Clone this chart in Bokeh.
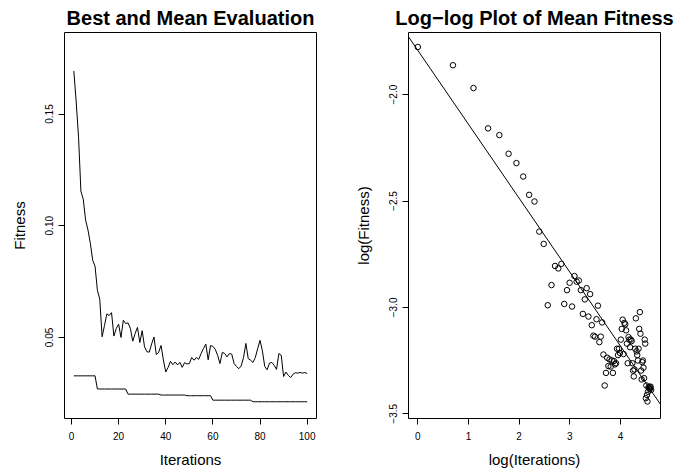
import numpy as np
from bokeh.plotting import figure
from bokeh.models import Range1d, FixedTicker, Slope, Title
from bokeh.layouts import row
from bokeh.embed import file_html
from bokeh.resources import INLINE

FONT = "Liberation Sans"

iterations = list(range(1, 101))

mean_fitness = [
    0.1693, 0.1554, 0.1396, 0.1155, 0.1119, 0.1025, 0.0981, 0.0921, 0.0845, 0.0819,
    0.0711, 0.0671, 0.0503, 0.0553, 0.0605, 0.0598, 0.0611, 0.0506, 0.0540, 0.0559,
    0.0500, 0.0577, 0.0562, 0.0565, 0.0540, 0.0483, 0.0517, 0.0545, 0.0477, 0.0530,
    0.0458, 0.0436, 0.0434, 0.0471, 0.0502, 0.0423, 0.0434, 0.0464, 0.0399, 0.0345,
    0.0366, 0.0393, 0.0378, 0.0390, 0.0377, 0.0388, 0.0366, 0.0387, 0.0381, 0.0383,
    0.0410, 0.0398, 0.0410, 0.0402, 0.0428, 0.0450, 0.0470, 0.0400, 0.0463, 0.0460,
    0.0447, 0.0420, 0.0383, 0.0433, 0.0428, 0.0413, 0.0428, 0.0425, 0.0383, 0.0370,
    0.0360, 0.0372, 0.0410, 0.0473, 0.0405, 0.0398, 0.0388, 0.0410, 0.0450, 0.0487,
    0.0440, 0.0370, 0.0355, 0.0385, 0.0388, 0.0375, 0.0357, 0.0428, 0.0420, 0.0325,
    0.0345, 0.0330, 0.0320, 0.0335, 0.0342, 0.0340, 0.0343, 0.0340, 0.0343, 0.0338,
]

best_fitness = [
    0.0328, 0.0328, 0.0328, 0.0328, 0.0328, 0.0328, 0.0328, 0.0328, 0.0328, 0.0328,
    0.0269, 0.0269, 0.0269, 0.0269, 0.0269, 0.0269, 0.0269, 0.0269, 0.0269, 0.0269,
    0.0269, 0.0269, 0.0269, 0.0246, 0.0246, 0.0246, 0.0246, 0.0246, 0.0246, 0.0246,
    0.0246, 0.0246, 0.0246, 0.0246, 0.0246, 0.0246, 0.0246, 0.0242, 0.0242, 0.0242,
    0.0242, 0.0242, 0.0242, 0.0242, 0.0242, 0.0242, 0.0242, 0.0242, 0.0239, 0.0239,
    0.0239, 0.0239, 0.0239, 0.0239, 0.0239, 0.0239, 0.0239, 0.0239, 0.0239, 0.0219,
    0.0219, 0.0219, 0.0219, 0.0219, 0.0219, 0.0219, 0.0219, 0.0219, 0.0219, 0.0219,
    0.0219, 0.0219, 0.0219, 0.0219, 0.0219, 0.0219, 0.0212, 0.0212, 0.0212, 0.0212,
    0.0212, 0.0212, 0.0212, 0.0212, 0.0212, 0.0212, 0.0212, 0.0212, 0.0212, 0.0212,
    0.0212, 0.0212, 0.0212, 0.0212, 0.0212, 0.0212, 0.0212, 0.0212, 0.0212, 0.0212,
]

left_x_ticks = [0, 20, 40, 60, 80, 100]
left_y_ticks = [0.05, 0.10, 0.15]
left_y_labels = ["0.05", "0.10", "0.15"]
right_x_ticks = [0, 1, 2, 3, 4]
right_y_ticks = [-3.5, -3.0, -2.5, -2.0]
right_y_labels = ["\u22123.5", "\u22123.0", "\u22122.5", "\u22122.0"]

log_iter = np.log(np.array(iterations, dtype=float))
log_mean = np.log(np.array(mean_fitness))
slope, intercept = np.polyfit(log_iter, log_mean, 1)


def style(p, xticks, yticks, ylabels, title):
    p.outline_line_color = "black"
    p.outline_line_width = 1
    p.xgrid.visible = False
    p.ygrid.visible = False
    p.background_fill_color = "white"
    p.border_fill_color = "white"
    for ax in (p.xaxis[0], p.yaxis[0]):
        ax.axis_line_color = None
        ax.major_tick_out = 6
        ax.major_tick_in = 0
        ax.minor_tick_line_color = None
        ax.major_tick_line_color = "black"
        ax.major_label_text_font = FONT
        ax.major_label_text_font_size = "10px"
        ax.major_label_text_color = "black"
        ax.axis_label_text_font = FONT
        ax.axis_label_text_font_size = "15px"
        ax.axis_label_text_font_style = "normal"
        ax.axis_label_text_color = "black"
    p.xaxis[0].ticker = FixedTicker(ticks=xticks)
    p.yaxis[0].ticker = FixedTicker(ticks=yticks)
    p.yaxis[0].major_label_overrides = {t: s for t, s in zip(yticks, ylabels)}
    p.yaxis[0].major_label_orientation = "vertical"
    p.xaxis[0].major_label_standoff = 7
    p.yaxis[0].major_label_standoff = 5
    p.xaxis[0].axis_label_standoff = 8
    p.yaxis[0].axis_label_standoff = 15
    p.add_layout(Title(text=title, align="center", text_font=FONT,
                       text_font_size="20px", text_font_style="bold",
                       text_color="black", standoff=8), "above")


# Left panel: best and mean fitness per iteration
p1 = figure(width=339, height=471, output_backend="svg", toolbar_location=None,
            title=None, x_range=Range1d(-2.96, 103.96), y_range=Range1d(0.0137, 0.1865),
            min_border_left=64, min_border_right=23, min_border_top=32,
            min_border_bottom=53, x_axis_label="Iterations", y_axis_label="Fitness")
p1.line(iterations, mean_fitness, line_color="black", line_width=1)
p1.line(iterations, best_fitness, line_color="black", line_width=1)
style(p1, left_x_ticks, left_y_ticks, left_y_labels, "Best and Mean Evaluation")

# Right panel: log-log view of the mean fitness with fitted line
p2 = figure(width=339, height=471, output_backend="svg", toolbar_location=None,
            title=None, x_range=Range1d(-0.184, 4.79), y_range=Range1d(-3.522, -1.708),
            min_border_left=69, min_border_right=18, min_border_top=32,
            min_border_bottom=53, x_axis_label="log(Iterations)",
            y_axis_label="log(Fitness)")
p2.scatter(log_iter, log_mean, size=5.5, fill_color=None, line_color="black",
           line_width=1)
p2.add_layout(Slope(gradient=slope, y_intercept=intercept, line_color="black",
                    line_width=1))
style(p2, right_x_ticks, right_y_ticks, right_y_labels,
      "Log\u2212log Plot of Mean Fitness")

layout = row(p1, p2, spacing=0)
open("out.html", "w").write(file_html(layout, INLINE))
